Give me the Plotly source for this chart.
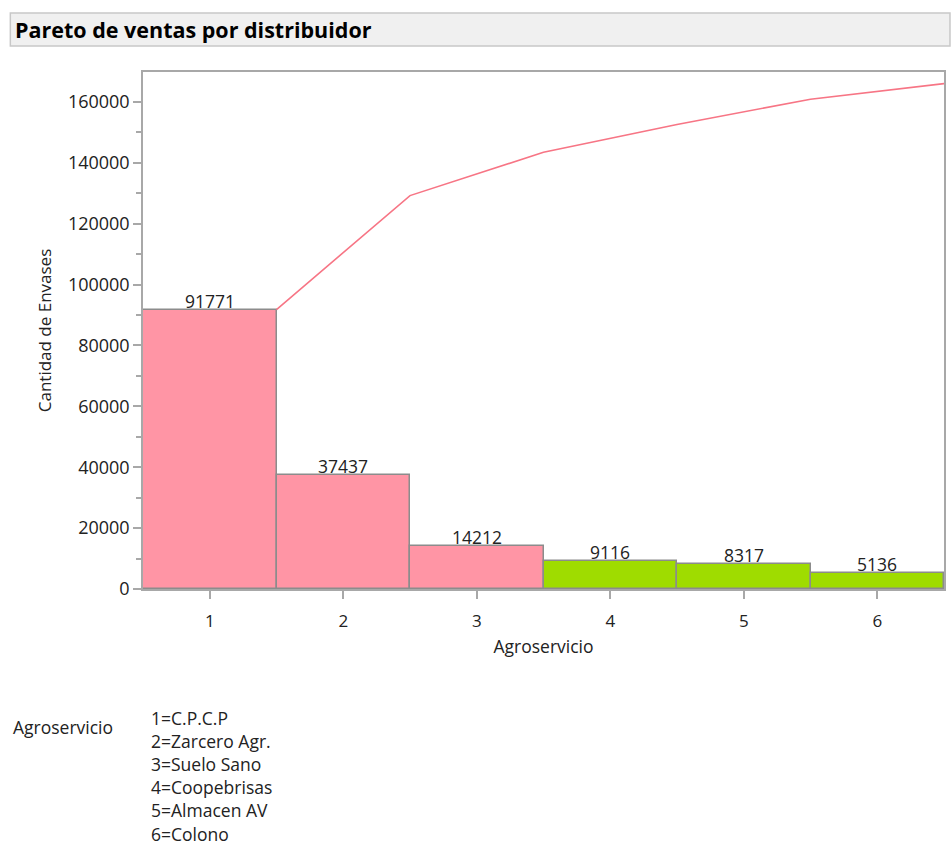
import plotly.graph_objects as go

# Sales per distributor (units shipped), already sorted in Pareto order
codes = [1, 2, 3, 4, 5, 6]
distributors = ["C.P.C.P", "Zarcero Agr.", "Suelo Sano", "Coopebrisas", "Almacen AV", "Colono"]
units = [91771, 37437, 14212, 9116, 8317, 5136]
# Highlight group: the "vital few" (pink) vs. the rest (green)
vital_few = [True, True, True, False, False, False]

PINK = "#FF95A5"
GREEN = "#9FDC00"
EDGE = "#8C8C8C"
AXIS = "#A8A8A8"
FONT = "Open Sans"
TEXT = "#222222"

# cumulative totals, plotted at the right edge of each bar
cumulative = []
running = 0
for v in units:
    running += v
    cumulative.append(running)
cum_x = [c + 0.5 for c in codes]

fig = go.Figure()

fig.add_trace(go.Bar(
    x=codes,
    y=units,
    width=1.0,
    marker=dict(color=[PINK if f else GREEN for f in vital_few],
                line=dict(color=EDGE, width=1.5)),
    hoverinfo="x+y",
    showlegend=False,
))

fig.add_trace(go.Scatter(
    x=cum_x,
    y=cumulative,
    mode="lines",
    line=dict(color="#F77585", width=1.6),
    showlegend=False,
    cliponaxis=False,
))

# value labels sitting on top of each bar
for c, v in zip(codes, units):
    fig.add_annotation(x=c, y=v, text=str(v), showarrow=False,
                       yanchor="bottom", yshift=-5,
                       font=dict(family=FONT, size=17.5, color=TEXT))

# geometry of the plot area in pixels, used to place the header and key
W, H = 952, 846
L, R, T, B = 143, 6, 72, 257
pw, ph = W - L - R, H - T - B


def px_x(x):
    return (x - L) / pw


def px_y(y):
    return (H - B - y) / ph


# header bar
fig.add_shape(type="rect", xref="paper", yref="paper",
              x0=px_x(10), x1=px_x(952), y0=px_y(46), y1=px_y(13),
              fillcolor="#F0F0F0", line=dict(color="#C8C8C8", width=1.5),
              layer="below")
fig.add_annotation(xref="paper", yref="paper", x=px_x(13), y=px_y(30),
                   xanchor="left", yanchor="middle", showarrow=False,
                   text="<b>Pareto de ventas por distribuidor</b>",
                   font=dict(family=FONT, size=21.5, color="#000000"))

# key for the category codes
fig.add_annotation(xref="paper", yref="paper", x=px_x(11), y=px_y(727),
                   xanchor="left", yanchor="middle", showarrow=False,
                   text="Agroservicio",
                   font=dict(family=FONT, size=17.5, color=TEXT))
for i, (c, name) in enumerate(zip(codes, distributors)):
    fig.add_annotation(xref="paper", yref="paper", x=px_x(149), y=px_y(718 + i * 23.1),
                       xanchor="left", yanchor="middle", showarrow=False,
                       text=f"{c}={name}",
                       font=dict(family=FONT, size=17.5, color=TEXT))

fig.update_layout(
    width=W, height=H,
    margin=dict(l=L, r=R, t=T, b=B, pad=0),
    paper_bgcolor="white",
    plot_bgcolor="white",
    font=dict(family=FONT, size=17, color=TEXT),
    bargap=0,
)

fig.update_xaxes(
    range=[0.5, 6.5],
    tickmode="array", tickvals=codes, ticktext=[str(c) for c in codes],
    ticks="outside", ticklen=8, tickcolor=AXIS, tickwidth=1.5,
    ticklabelstandoff=8,
    showline=True, linecolor=AXIS, linewidth=1.5, mirror=True,
    showgrid=False, zeroline=False,
    tickfont=dict(family=FONT, size=17, color=TEXT),
    title=dict(text="Agroservicio", font=dict(family=FONT, size=17.5, color=TEXT), standoff=10),
)

fig.update_yaxes(
    range=[0, 169800],
    tickmode="linear", tick0=0, dtick=20000, tickformat="d",
    ticks="outside", ticklen=8, tickcolor=AXIS, tickwidth=1.5,
    minor=dict(dtick=10000, ticks="outside", ticklen=5, tickcolor=AXIS, tickwidth=1.5, showgrid=False),
    showline=True, linecolor=AXIS, linewidth=1.5, mirror=True,
    showgrid=False, zeroline=False,
    tickfont=dict(family=FONT, size=18, color=TEXT),
    title=dict(text="Cantidad de Envases", font=dict(family=FONT, size=17, color=TEXT), standoff=12),
)

fig.write_html("out.html")
